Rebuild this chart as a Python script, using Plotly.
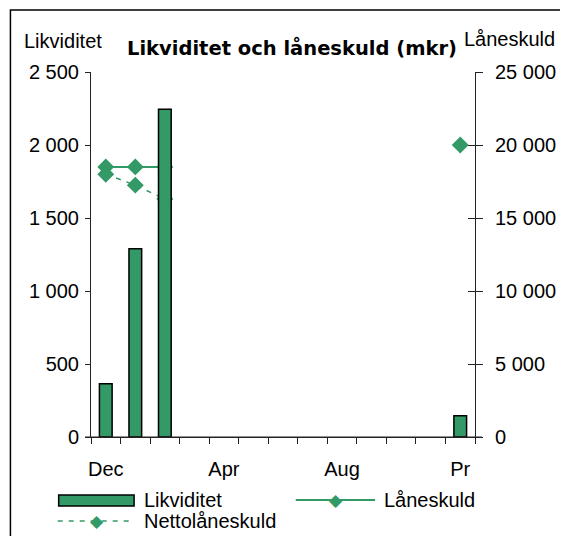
import plotly.graph_objects as go

months = ["Dec", "Jan", "Feb", "Mar", "Apr", "Maj", "Jun", "Jul", "Aug", "Sep", "Okt", "Nov", "Pr"]
likviditet = [365, 1290, 2245, None, None, None, None, None, None, None, None, None, 145]
laneskuld = [18500, 18500, 18500, None, None, None, None, None, None, None, None, None, 20000]
nettolaneskuld = [18000, 17250, 16300, None, None, None, None, None, None, None, None, None, None]
label_months = ["Dec", "Apr", "Aug", "Pr"]
left_ticks = [0, 500, 1000, 1500, 2000, 2500]
right_ticks = [0, 5000, 10000, 15000, 20000, 25000]

GREEN = "#339966"
FONT = "Liberation Sans, Arial, sans-serif"

OFF = 8  # page body margin
W, H = 568 - OFF, 536 - OFF
# plot area in reference (window) pixels
RL, RR, RT, RB = 91, 483, 72, 437
L, R, T, B = RL - OFF, RR - OFF, RT - OFF, RB - OFF


def px(x):
    return (x - RL) / (RR - RL)


def py(y):
    return (RB - y) / (RB - RT)


xi = list(range(len(months)))

fig = go.Figure()

fig.add_trace(go.Scatter(
    x=xi, y=laneskuld, name="Låneskuld", mode="lines+markers",
    line=dict(color=GREEN, width=2),
    marker=dict(symbol="diamond", size=13, color=GREEN),
    xaxis="x", yaxis="y", connectgaps=False, showlegend=False,
))
fig.add_trace(go.Scatter(
    x=xi, y=nettolaneskuld, name="Nettolåneskuld", mode="lines+markers",
    line=dict(color=GREEN, width=1.5, dash="5px,6px"),
    marker=dict(symbol="diamond", size=13, color=GREEN),
    xaxis="x", yaxis="y", connectgaps=False, showlegend=False,
))
fig.add_trace(go.Bar(
    x=xi, y=likviditet, name="Likviditet", width=0.43,
    marker=dict(color=GREEN, line=dict(color="black", width=1.5)),
    xaxis="x", yaxis="y2", showlegend=False,
))
fig.add_trace(go.Scatter(x=[None], y=[None], xaxis="x", yaxis="y3",
                         showlegend=False, hoverinfo="skip"))

fig.update_layout(
    width=W, height=H,
    margin=dict(l=L, r=W - R, t=T, b=H - B, pad=0),
    paper_bgcolor="white", plot_bgcolor="white",
    separators=", ",
    font=dict(family=FONT, size=20, color="black"),
    showlegend=False,
    barmode="overlay",
    xaxis=dict(
        range=[-0.5, len(months) - 0.5],
        tickmode="array",
        tickvals=[months.index(m) for m in label_months],
        ticktext=label_months,
        ticks="", showgrid=False, zeroline=False,
        showline=True, linecolor="#222", linewidth=1,
        ticklabelstandoff=14,
        tickfont=dict(family=FONT, size=20),
        minor=dict(tickvals=[i - 0.5 for i in range(len(months) + 1)],
                   ticks="outside", ticklen=6, tickcolor="#222", tickwidth=1,
                   showgrid=False),
        fixedrange=True,
    ),
    yaxis=dict(
        side="right", range=[0, 25000], tickmode="array", tickvals=right_ticks,
        tickformat=",d", ticks="outside", ticklen=7, tickcolor="#222",
        showline=True, linecolor="#222", linewidth=1,
        showgrid=False, zeroline=False, ticklabelstandoff=8,
        tickfont=dict(family=FONT, size=20),
    ),
    yaxis2=dict(
        overlaying="y", side="left", range=[0, 2500], tickmode="array",
        tickvals=left_ticks, tickformat=",d", ticks="outside", ticklen=5,
        tickcolor="#222", showline=True, linecolor="#222", linewidth=1,
        showgrid=False, zeroline=False, ticklabelstandoff=2,
        tickfont=dict(family=FONT, size=20),
    ),
    yaxis3=dict(
        overlaying="y", side="right", range=[0, 25000], tickmode="array",
        tickvals=right_ticks, ticks="inside", ticklen=7, tickcolor="#222",
        showticklabels=False, showline=False, showgrid=False, zeroline=False,
    ),
)

shapes = []
shapes.append(dict(type="rect", xref="paper", yref="paper",
                   x0=px(OFF + 0.75), x1=px(600), y0=py(600), y1=py(10),
                   line=dict(color="black", width=1.5), fillcolor="rgba(0,0,0,0)",
                   layer="below"))
shapes.append(dict(type="line", xref="paper", yref="paper",
                   x0=px(85), x1=px(490), y0=0, y1=0,
                   line=dict(color="#222", width=1)))
shapes.append(dict(type="rect", xref="paper", yref="paper",
                   x0=px(58), x1=px(135), y0=py(506), y1=py(495),
                   fillcolor=GREEN, line=dict(color="black", width=1.5)))
shapes.append(dict(type="line", xref="paper", yref="paper",
                   x0=px(300), x1=px(381), y0=py(500), y1=py(500),
                   line=dict(color=GREEN, width=2)))
shapes.append(dict(type="line", xref="paper", yref="paper",
                   x0=px(57), x1=px(135), y0=py(521), y1=py(521),
                   line=dict(color=GREEN, width=1.5, dash="5px,6px")))
fig.update_layout(shapes=shapes)

annotations = [
    dict(text="<b>Likviditet och låneskuld (mkr)</b>", xref="paper", yref="paper",
         x=px(296), y=py(48), xanchor="center", yanchor="middle", showarrow=False,
         font=dict(family="DejaVu Sans, sans-serif", size=19.5, color="black")),
    dict(text="Likviditet", xref="paper", yref="paper",
         x=px(21), y=py(41), xanchor="left", yanchor="middle", showarrow=False,
         font=dict(family=FONT, size=20)),
    dict(text="Låneskuld", xref="paper", yref="paper",
         x=px(567), y=py(39), xanchor="right", yanchor="middle", showarrow=False,
         font=dict(family=FONT, size=20)),
    dict(text="Likviditet", xref="paper", yref="paper",
         x=px(143), y=py(500), xanchor="left", yanchor="middle", showarrow=False,
         font=dict(family=FONT, size=20)),
    dict(text="Låneskuld", xref="paper", yref="paper",
         x=px(388), y=py(500), xanchor="left", yanchor="middle", showarrow=False,
         font=dict(family=FONT, size=20)),
    dict(text="Nettolåneskuld", xref="paper", yref="paper",
         x=px(143), y=py(521), xanchor="left", yanchor="middle", showarrow=False,
         font=dict(family=FONT, size=20)),
    dict(text="◆", xref="paper", yref="paper",
         x=px(341), y=py(500), xanchor="center", yanchor="middle", showarrow=False,
         font=dict(family="DejaVu Sans", size=17, color=GREEN)),
    dict(text="◆", xref="paper", yref="paper",
         x=px(97), y=py(521), xanchor="center", yanchor="middle", showarrow=False,
         font=dict(family="DejaVu Sans", size=17, color=GREEN)),
]
fig.update_layout(annotations=annotations)

fig.write_html("out.html")
